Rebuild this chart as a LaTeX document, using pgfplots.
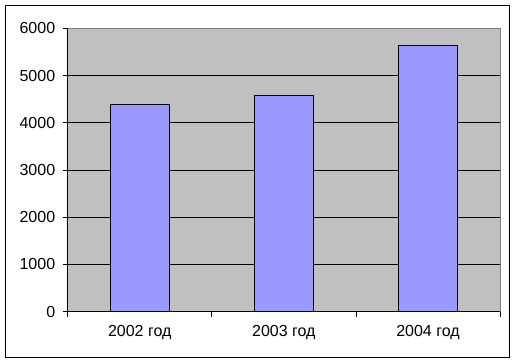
\documentclass[border=0pt]{standalone}
\usepackage{pgfplots}
\pgfplotsset{compat=1.18}
\usepackage{fontspec}
\setmainfont{Liberation Sans}
\definecolor{plotbg}{HTML}{C0C0C0}
\definecolor{barfill}{HTML}{9999FF}
\definecolor{frameg}{HTML}{808080}
\begin{document}
\begin{tikzpicture}
\useasboundingbox (-67.7pt,-51.3pt) rectangle (448.3pt,311.7pt);
\draw[black, line width=1pt] (-61.7pt,-45.6pt) rectangle (441.6pt,306.4pt);
\begin{axis}[
  scale only axis,
  width=432.3pt, height=283.4pt,
  xmin=-0.5, xmax=2.5,
  ymin=0, ymax=6000,
  axis background/.style={fill=plotbg},
  axis x line*=bottom, axis y line*=left,
  axis line style={black, line width=0.8pt},
  xtick={0,1,2},
  xticklabels={2002 год, 2003 год, 2004 год},
  minor xtick={-0.5,0.5,1.5,2.5},
  major x tick style={draw=none},
  minor x tick style={black, line width=0.8pt},
  ytick={0,1000,2000,3000,4000,5000,6000},
  y tick style={black, line width=0.8pt},
  tick align=outside,
  major tick length=5pt, minor tick length=5pt,
  ymajorgrids,
  major grid style={black, line width=0.8pt},
  ticklabel style={font=\fontsize{16}{19}\selectfont},
  yticklabel style={xshift=-4pt},
  xticklabel style={yshift=-5pt},
  /pgf/number format/assume math mode=true,
  scaled y ticks=false,
  yticklabel={\pgfmathprintnumber[fixed,1000 sep={}]{\tick}},
  clip=false,
]
\addplot[ybar, bar width=59pt, fill=barfill, draw=black, line width=0.8pt]
  coordinates {(0,4392) (1,4581) (2,5640)};
\draw[frameg, line width=1pt] (rel axis cs:0,1) -- (rel axis cs:1,1) -- (rel axis cs:1,0);
\end{axis}
\end{tikzpicture}
\end{document}
